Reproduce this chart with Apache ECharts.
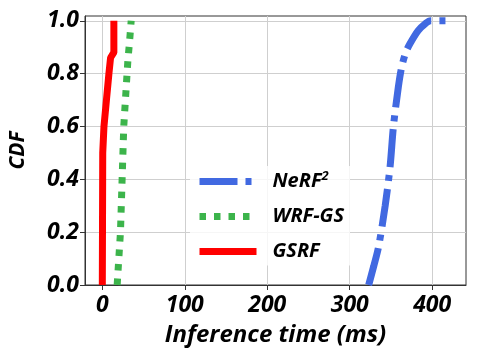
<!DOCTYPE html>
<html>
<head>
    <meta charset="utf-8"/>
    <title>Inference time CDF</title>
    <script src="https://cdn.jsdelivr.net/npm/echarts@6/dist/echarts.min.js"></script>
    <style>
        html, body { margin: 0; padding: 0; background: #fff; }
        #main { width: 478px; height: 359px; }
    </style>
</head>
<body>
<div id="main"></div>
<script>
    // data: x = inference time (ms), y = CDF
    var nerfX = [323, 329, 335, 343, 349, 353, 359, 363, 368, 373, 383, 392, 398, 418];
    var nerfY = [0, 0.07, 0.145, 0.3, 0.45, 0.6, 0.75, 0.825, 0.88, 0.913, 0.963, 0.99, 1.0, 1.0];
    var wrfX = [18, 20, 22, 24, 26, 29, 31, 33, 35];
    var wrfY = [0, 0.1, 0.2, 0.4, 0.6, 0.75, 0.85, 0.92, 1.0];
    var gsrfX = [0, 0.5, 2, 5, 8, 10, 14, 14];
    var gsrfY = [0, 0.5, 0.6, 0.7, 0.8, 0.86, 0.88, 1.0];
    var xTicks = [0, 100, 200, 300, 400];
    var yTicks = [0, 0.2, 0.4, 0.6, 0.8, 1.0];

    function pairs(xs, ys) {
        return xs.map(function (x, i) { return [x, ys[i]]; });
    }

    var font = '"Open Sans", sans-serif';
    var chart = echarts.init(document.getElementById('main'));

    var option = {
        animation: false,
        grid: {
            left: 85, right: 12, top: 16, bottom: 74,
            show: true, borderColor: '#333', borderWidth: 1
        },
        legend: {
            orient: 'vertical',
            left: 190, top: 166,
            itemWidth: 57, itemHeight: 14, itemGap: 15,
            backgroundColor: 'rgba(255,255,255,0.8)',
            padding: [4, 6],
            itemStyle: { opacity: 0 },
            lineStyle: { width: 7 },
            textStyle: {
                fontFamily: font, fontWeight: 'bold', fontStyle: 'italic',
                fontSize: 20, color: '#000', padding: [0, 0, 0, 11],
                rich: {
                    sup: {
                        fontFamily: font, fontSize: 13, fontStyle: 'italic',
                        verticalAlign: 'top', padding: [0, 0, 10, 0]
                    }
                }
            },
            formatter: function (name) {
                return name === 'NeRF2' ? 'NeRF{sup|2}' : name;
            },
            data: ['NeRF2', 'WRF-GS', 'GSRF']
        },
        xAxis: {
            type: 'value',
            min: -21, max: 441,
            name: 'Inference time (ms)',
            nameLocation: 'middle', nameGap: 38,
            nameTextStyle: {
                fontFamily: font, fontWeight: 'bold', fontStyle: 'italic',
                fontSize: 24, color: '#000'
            },
            axisLine: { show: true, onZero: false, lineStyle: { color: '#333' } },
            axisTick: { show: true, length: 5, customValues: xTicks, lineStyle: { color: '#333' } },
            axisLabel: {
                customValues: xTicks, margin: 9,
                fontFamily: font, fontWeight: 'bold', fontStyle: 'italic',
                fontSize: 23, color: '#000'
            },
            splitLine: { show: true, lineStyle: { color: '#cfcfcf', width: 1 } }
        },
        yAxis: {
            type: 'value',
            min: 0, max: 1.018,
            name: 'CDF',
            nameLocation: 'middle', nameGap: 56,
            nameTextStyle: {
                fontFamily: font, fontWeight: 'bold', fontStyle: 'italic',
                fontSize: 21, color: '#000'
            },
            axisLine: { show: true, onZero: false, lineStyle: { color: '#333' } },
            axisTick: { show: true, length: 5, customValues: yTicks, lineStyle: { color: '#333' } },
            axisLabel: {
                customValues: yTicks, margin: 6,
                fontFamily: font, fontWeight: 'bold', fontStyle: 'italic',
                fontSize: 23, color: '#000',
                formatter: function (v) { return v.toFixed(1); }
            },
            splitLine: { show: true, lineStyle: { color: '#cfcfcf', width: 1 } }
        },
        series: [
            {
                name: 'NeRF2', type: 'line', symbol: 'none', smooth: 0.3,
                data: pairs(nerfX, nerfY),
                itemStyle: { color: '#4169e1' },
                lineStyle: { color: '#4169e1', width: 7, type: [38, 8, 6, 8], cap: 'butt' }
            },
            {
                name: 'WRF-GS', type: 'line', symbol: 'none',
                data: pairs(wrfX, wrfY),
                itemStyle: { color: '#3cb44b' },
                lineStyle: { color: '#3cb44b', width: 7, type: [6.5, 8], cap: 'butt' }
            },
            {
                name: 'GSRF', type: 'line', symbol: 'none',
                data: pairs(gsrfX, gsrfY),
                itemStyle: { color: '#ff0000' },
                lineStyle: { color: '#ff0000', width: 7 }
            }
        ]
    };
    chart.setOption(option);
</script>
</body>
</html>
